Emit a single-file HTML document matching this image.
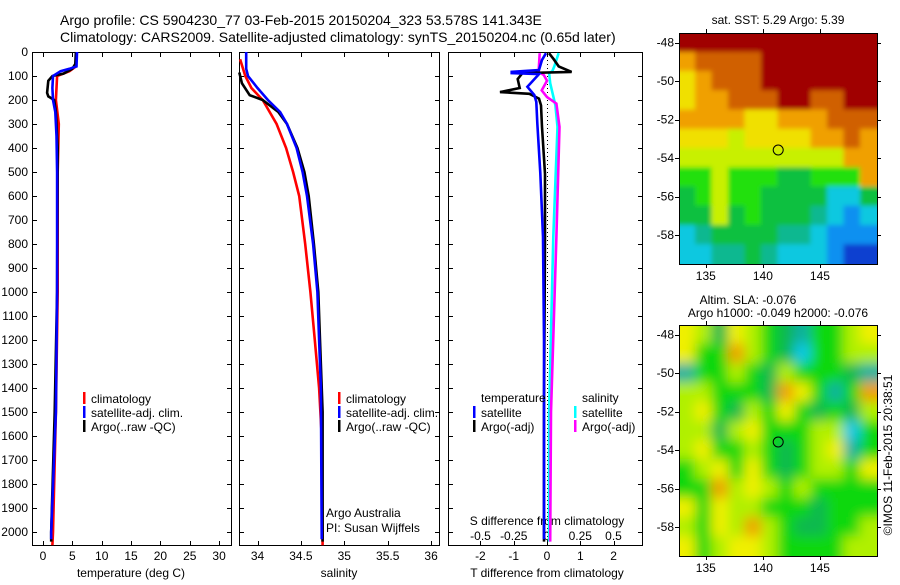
<!DOCTYPE html>
<html><head><meta charset="utf-8"><style>
body{margin:0;background:#fff;}
svg text{font-family:"Liberation Sans",sans-serif;fill:#000;}
</style></head><body>
<svg id="fig" width="900" height="580" viewBox="0 0 900 580" xmlns="http://www.w3.org/2000/svg">
<defs>
<filter id="blur" x="-5%" y="-5%" width="110%" height="110%"><feGaussianBlur stdDeviation="6"/></filter>
<filter id="blur2" x="-5%" y="-5%" width="110%" height="110%"><feGaussianBlur stdDeviation="2.5"/></filter>
<clipPath id="clipSla"><rect x="679" y="325" width="198" height="231"/></clipPath>
<clipPath id="clipSst"><rect x="679" y="33" width="198" height="231"/></clipPath>
</defs>
<text x="60" y="25" font-size="14">Argo profile: CS 5904230_77 03-Feb-2015 20150204_323 53.578S 141.343E</text>
<text x="60" y="42" font-size="14">Climatology: CARS2009. Satellite-adjusted climatology: synTS_20150204.nc (0.65d later)</text>
<g id="g"></g>
</svg>
<script>
// ---- profile data (depth in m) ----
const tClimD=[60,80,100,200,300,500,1000,1500,2000,2055];
const tClimV=[5.6,4.5,2.4,2.2,2.7,2.5,2.5,2.2,1.7,1.6];
const tSatD=[0,60,70,80,100,150,200,250,350,500,1000,1500,2000,2030];
const tSatV=[5.8,5.7,4.5,3.0,1.7,1.6,1.7,2.1,2.3,2.4,2.4,2.2,1.4,1.4];
const tArgoD=[0,50,70,90,100,120,170,185,200,250,400,1000,1500,2000,2040];
const tArgoV=[5.6,5.5,5.0,3.5,1.6,0.9,0.7,0.9,1.9,2.2,2.5,2.4,2.0,1.4,1.4];
const sClimD=[30,100,150,200,300,400,500,600,800,1000,1200,1400,1600,2055];
const sClimV=[33.8,33.86,33.93,34.06,34.22,34.33,34.41,34.48,34.55,34.61,34.66,34.71,34.74,34.75];
const sSatD=[0,70,100,150,200,250,300,400,500,600,800,1000,1200,1400,2030];
const sSatV=[33.87,33.87,33.89,34.0,34.12,34.26,34.34,34.45,34.52,34.57,34.64,34.69,34.71,34.73,34.74];
const sArgoD=[85,130,180,200,250,300,400,500,600,800,1000,1200,1500,2040];
const sArgoV=[33.79,33.82,33.91,34.06,34.24,34.34,34.46,34.54,34.59,34.65,34.7,34.72,34.75,34.75];
const dTSatD=[5,33,75,83,88,92,145,179,208,296,504,770,1200,2030];
const dTSatV=[-0.03,-0.15,-0.24,-1.06,-1.06,-0.24,-0.59,-0.38,-0.32,-0.29,-0.2,-0.12,-0.09,-0.09];
const dTArgoD=[5,30,60,83,88,113,150,167,174,194,222,312,508,770,1500,2040];
const dTArgoV=[0.06,0.2,0.35,0.74,-0.74,-0.88,-0.82,-1.41,-0.53,-0.24,-0.18,-0.15,-0.06,-0.06,-0.09,-0.09];
const dSSatD=[5,60,80,88,130,222,312,770,1500,2040];
const dSSatV=[0.087,0.055,0.04,0.016,0.024,0.063,0.079,0.047,0.016,0.016];
const dSArgoD=[5,83,96,120,160,188,215,312,770,1500,2040];
const dSArgoV=[-0.055,-0.063,-0.024,0,-0.04,0,0.071,0.094,0.071,0.03,0.024];
const depthTicks=[0,100,200,300,400,500,600,700,800,900,1000,1100,1200,1300,1400,1500,1600,1700,1800,1900,2000];
const tTicks=[0,5,10,15,20,25,30];
const sTicks=[34,34.5,35,35.5,36];
const dTTicks=[-2,-1,0,1,2];
const dSTicks=[-0.5,-0.25,0,0.25,0.5];
const dSTickLabels=["-0.5","-0.25","0","0.25","0.5"];
// ---- map data ----
const lonTicks=[135,140,145];
const latTicks=[-48,-50,-52,-54,-56,-58];
const sstGrid=[
[10,10,10,10,10,10,10,10,10,10,10,10],
[8,9,9,9,9,10,10,10,10,10,10,10],
[7,8,9,9,9,10,10,10,10,10,10,10],
[7,8,8,9,9,9,10,10,9,9,10,10],
[8,8,8,8,7,7,8,8,8,9,9,9],
[7,7,7,6,7,7,7,7,8,8,9,8],
[6,6,6,6,6,6,6,6,6,6,8,8],
[5,5,6,5,5,5,4,4,5,5,5,8],
[4,5,6,5,5,4,4,4,4,2,2,4],
[4,4,6,4,5,4,4,4,3,2,1,2],
[2,3,4,4,4,4,3,3,2,1,1,1],
[2,2,3,3,4,3,2,2,2,1,0,0]];
const sstColors=["#1040d0","#1090f0","#10c8e0","#10b890","#10c040","#20e010","#c8f000","#f0e000","#f0a000","#d06000","#a00000"];
const slaGrid=[
[5,4,2,5,4,3,2,1,3,3,4,5],
[5,3,3,6,4,3,2,0,3,3,4,4],
[1,3,3,4,3,2,4,3,3,3,2,1],
[4,4,3,3,3,2,6,5,3,1,3,6],
[4,5,3,2,4,3,5,3,2,3,2,4],
[4,4,2,4,5,3,3,3,4,4,0,3],
[4,5,3,3,4,3,2,3,4,5,1,3],
[3,4,5,3,5,3,2,3,4,4,3,5],
[3,3,6,4,5,4,3,4,3,3,3,3],
[5,3,5,4,4,3,3,3,2,3,3,3],
[4,3,5,4,6,4,3,2,2,3,3,4],
[5,3,4,5,5,4,3,3,3,3,4,4]];
const slaColors=["#10c8e8","#10b0a0","#10b850","#10d810","#b0f000","#f0f000","#f0a000"];
const argoLon=141.343, argoLat=-53.578;

const NS="http://www.w3.org/2000/svg";
const root=document.getElementById('g');
function el(tag,attrs,parent){const e=document.createElementNS(NS,tag);for(const k in attrs)e.setAttribute(k,attrs[k]);(parent||root).appendChild(e);return e;}
function txt(x,y,s,size,anchor,parent){const t=el('text',{x:x,y:y,'font-size':size,'text-anchor':anchor||'start'},parent);t.textContent=s;return t;}
const y0=52, pxPerM=0.24, yB=545;
const yD=d=>y0+d*pxPerM;
const xT=v=>43+v*5.87;
const xS=v=>257.5+(v-34)*86.8;
const xDT=v=>547+v*33.3;
const xDS=v=>547+v*133;

function panel(name,x1,x2){
  const g=el('g',{});
  
  
  el('rect',{x:x1+0.5,y:y0+0.5,width:x2-x1,height:yB-y0,fill:'none',stroke:'#000','stroke-width':1},g);
  depthTicks.forEach(d=>{
    el('line',{x1:x1,x2:x1+5,y1:yD(d)+0.5,y2:yD(d)+0.5,stroke:'#000'},g);
    el('line',{x1:x2-4,x2:x2+1,y1:yD(d)+0.5,y2:yD(d)+0.5,stroke:'#000'},g);
  });
  return g;
}
function xticks(g,ticks,fx,labels,ly){
  ticks.forEach((v,i)=>{
    const x=Math.round(fx(v))+0.5;
    el('line',{x1:x,x2:x,y1:y0,y2:y0+5,stroke:'#000'},g);
    el('line',{x1:x,x2:x,y1:yB-4,y2:yB+1,stroke:'#000'},g);
    if(labels) txt(fx(v),ly,labels[i],12,'middle',g);
  });
}
function line(g,D,V,fx,color,name){
  const p=D.map((d,i)=>fx(V[i]).toFixed(1)+','+yD(d).toFixed(1)).join(' ');
  const l=el('polyline',{points:p,fill:'none',stroke:color,'stroke-width':2.6,'stroke-linejoin':'miter'},g);
  
  
}
function legend(g,x,y,color,label){
  el('rect',{x:x,y:y-9,width:2.5,height:12,fill:color},g);
  txt(x+8,y+2,label,12,'start',g);
}
// panel 1
const p1=panel('temperature-panel',32,231);
depthTicks.forEach(d=>txt(28,yD(d)+4,String(d),12,'end',p1));
xticks(p1,tTicks,xT,tTicks.map(String),560);
txt(131,577,'temperature (deg C)',12,'middle',p1);
line(p1,tClimD,tClimV,xT,'#ff0000','temp-climatology-line');
line(p1,tArgoD,tArgoV,xT,'#000000','temp-argo-line');
line(p1,tSatD,tSatV,xT,'#0000ff','temp-satellite-line');
legend(p1,83,401,'#ff0000','climatology');
legend(p1,83,415,'#0000ff','satellite-adj. clim.');
legend(p1,83,429,'#000000','Argo(..raw -QC)');
// panel 2
const p2=panel('salinity-panel',239,439);
xticks(p2,sTicks,xS,sTicks.map(String),560);
txt(339,577,'salinity',12,'middle',p2);
line(p2,sClimD,sClimV,xS,'#ff0000','sal-climatology-line');
line(p2,sArgoD,sArgoV,xS,'#000000','sal-argo-line');
line(p2,sSatD,sSatV,xS,'#0000ff','sal-satellite-line');
legend(p2,338,401,'#ff0000','climatology');
legend(p2,338,415,'#0000ff','satellite-adj. clim.');
legend(p2,338,429,'#000000','Argo(..raw -QC)');
txt(326,517,'Argo Australia',12,'start',p2);
txt(326,532,'PI: Susan Wijffels',12,'start',p2);
// panel 3
const p3=panel('difference-panel',448,642);
xticks(p3,dTTicks,xDT,dTTicks.map(String),560);
dSTicks.forEach((v,i)=>txt(xDS(v),540,dSTickLabels[i],12,'middle',p3));
txt(547,525,'S difference from climatology',12,'middle',p3);
txt(547,577,'T difference from climatology',12,'middle',p3);
el('line',{x1:547.5,x2:547.5,y1:y0,y2:yB,stroke:'#000','stroke-dasharray':'1,3'},p3);
line(p3,dSSatD,dSSatV,xDS,'#00ffff','dS-satellite-line');
line(p3,dSArgoD,dSArgoV,xDS,'#ff00ff','dS-argo-line');
line(p3,dTArgoD,dTArgoV,xDT,'#000000','dT-argo-line');
line(p3,dTSatD,dTSatV,xDT,'#0000ff','dT-satellite-line');
txt(481,402,'temperature',12,'start',p3);
txt(582,402,'salinity',12,'start',p3);
legend(p3,473,415,'#0000ff','satellite');
legend(p3,473,429,'#000000','Argo(-adj)');
legend(p3,574,415,'#00ffff','satellite');
legend(p3,574,429,'#ff00ff','Argo(-adj)');
// maps
function map(name,top,grid,colors,filterId,clipId){
  const L=679,R=877,H=231,B=top+H;
  const lonL=132.65,lonR=150,latT=-47.5,latB=-59.5;
  const fx=lo=>L+(lo-lonL)/(lonR-lonL)*(R-L);
  const fy=la=>top+(latT-la)/(latT-latB)*H;
  const g=el('g',{});
  
  
  const cg=el('g',{'clip-path':'url(#'+clipId+')'},g);
  const inner=el('g',{filter:'url(#'+filterId+')'},cg);
  const rows=grid.length, cols=grid[0].length;
  const cw=(R-L)/cols, ch=H/rows;
  grid.forEach((row,r)=>row.forEach((v,c)=>{
    const ex0=c===0?12:0, ex1=c===cols-1?12:0, ey0=r===0?12:0, ey1=r===rows-1?12:0;
    const cell=el('rect',{x:L+c*cw-ex0-0.5,y:top+r*ch-ey0-0.5,width:cw+1+ex0+ex1,height:ch+1+ey0+ey1,fill:colors[v]},inner);
    
    
  }));
  el('rect',{x:L+0.5,y:top+0.5,width:R-L,height:H,fill:'none',stroke:'#000'},g);
  lonTicks.forEach(lo=>{const x=Math.round(fx(lo))+0.5;
    el('line',{x1:x,x2:x,y1:top-4,y2:top,stroke:'#000'},g);
    el('line',{x1:x,x2:x,y1:B,y2:B+4,stroke:'#000'},g);
    txt(fx(lo),B+16,String(lo),12,'middle',g);});
  latTicks.forEach(la=>{const y=Math.round(fy(la))+0.5;
    el('line',{x1:L-4,x2:L,y1:y,y2:y,stroke:'#000'},g);
    el('line',{x1:R,x2:R+4,y1:y,y2:y,stroke:'#000'},g);
    txt(L-5,fy(la)+4,String(la),12,'end',g);});
  const m=el('circle',{cx:fx(argoLon),cy:fy(argoLat),r:5,fill:'none',stroke:'#000','stroke-width':1},g);
  
  
}
map('sst-map',33,sstGrid,sstColors,'blur2','clipSst');
map('sla-map',325,slaGrid,slaColors,'blur','clipSla');
txt(778,24,'sat. SST: 5.29 Argo: 5.39',12,'middle');
txt(748,304,'Altim. SLA: -0.076',12,'middle');
txt(778,317,'Argo h1000: -0.049 h2000: -0.076',12,'middle');
const cr=txt(0,0,'©IMOS 11-Feb-2015 20:38:51',12,'middle');
cr.setAttribute('transform','translate(892,455) rotate(-90)');


</script>
</body></html>
